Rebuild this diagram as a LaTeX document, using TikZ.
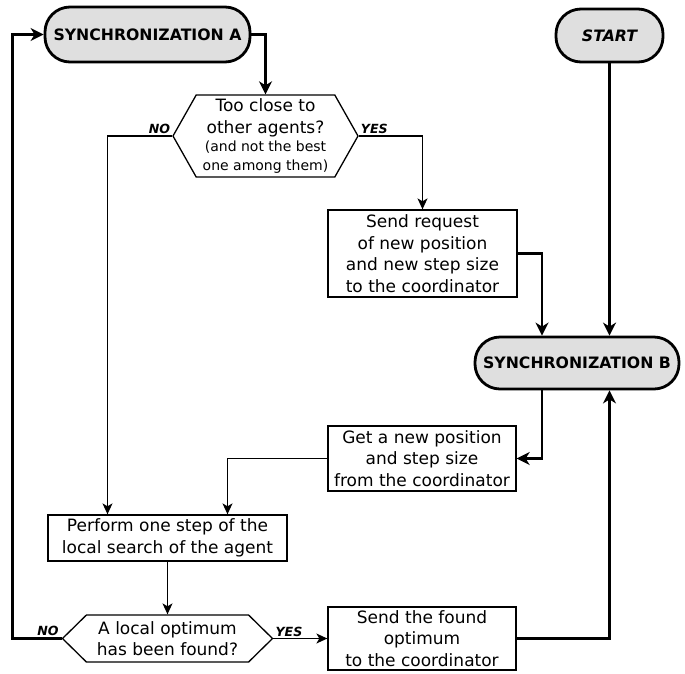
\documentclass[tikz,border=0pt]{standalone}
\usepackage{fontspec}
\setmainfont{DejaVu Sans}
\usepackage{tikz}
\usetikzlibrary{arrows.meta,shapes.symbols}

\begin{document}
\begin{tikzpicture}[x=1pt,y=-1pt,>={Stealth[length=11pt,width=10pt,inset=3pt]},
    font=\fontsize{17}{21.5}\selectfont,
    thin line/.style={line width=1.3pt,->},
    thick line/.style={line width=2.8pt,->,>={Stealth[length=13pt,width=13pt,inset=4pt]}},
    sync node/.style={draw,line width=2.8pt,fill=gray!25,rounded corners=25pt,inner sep=0pt,font=\fontsize{15.7}{18}\selectfont\bfseries},
    task node/.style={draw,line width=1.3pt,align=center,inner sep=0pt},
    test node/.style={draw,line width=1.3pt,align=center,inner sep=1pt,shape=signal,signal to=east and west},
    answer/.style={font=\fontsize{12.6}{14}\selectfont\bfseries\itshape,inner sep=1.5pt}]
  \useasboundingbox (0,0) rectangle (685,673);

  \node[sync node,minimum width=205pt,minimum height=55pt] (syncA) at (147.5,34.5) {SYNCHRONIZATION A};
  \node[sync node,minimum width=107pt,minimum height=53pt] (start) at (609.5,35.5) {\itshape START};
  \node[test node,minimum width=185pt,minimum height=82pt,signal pointer angle=121] (hex1) at (265.5,136)
    {Too close to\\other agents?\\[-3pt]{\fontsize{14}{17}\selectfont(and not the best}\\[-3pt]{\fontsize{14}{17}\selectfont one among them)}};
  \node[task node,minimum width=189pt,minimum height=87pt] (req) at (422.5,253.5)
    {Send request\\of new position\\and new step size\\to the coordinator};
  \node[sync node,minimum width=204pt,minimum height=52pt] (syncB) at (577,363) {SYNCHRONIZATION B};
  \node[task node,minimum width=188pt,minimum height=65pt] (get) at (422,458.5)
    {Get a new position\\and step size\\from the coordinator};
  \node[task node,minimum width=239pt,minimum height=46pt] (step) at (167.5,538)
    {Perform one step of the\\local search of the agent};
  \node[test node,minimum width=210pt,minimum height=47pt,signal pointer angle=89] (hex2) at (167.5,638.5)
    {A local optimum\\has been found?};
  \node[task node,minimum width=188pt,minimum height=63pt] (found) at (422,638.5)
    {Send the found\\optimum\\to the coordinator};

  % main loop
  \draw[thick line] (syncA.east) -| (hex1.north);
  \draw[thin line] (hex1.west) node[answer,above left] {NO} -| ([xshift=-60pt]step.north);
  \draw[thin line] (hex1.east) node[answer,above right] {YES} -| (req.north);
  \draw[thick line] (req.east) -| ([xshift=-35pt]syncB.north);
  \draw[thick line] (start.south) -- (start.south |- syncB.north);
  \draw[thick line] ([xshift=-35pt]syncB.south) |- (get.east);
  \draw[thin line] (get.west) -| ([xshift=60pt]step.north);
  \draw[thin line] (step.south) -- (hex2.north);
  \draw[thick line] (hex2.west) node[answer,above left] {NO} -- ++(-49,0) |- (syncA.west);
  \draw[thin line] (hex2.east) node[answer,above right] {YES} -- (found.west);
  \draw[thick line] (found.east) -| (start.south |- syncB.south);
\end{tikzpicture}
\end{document}
